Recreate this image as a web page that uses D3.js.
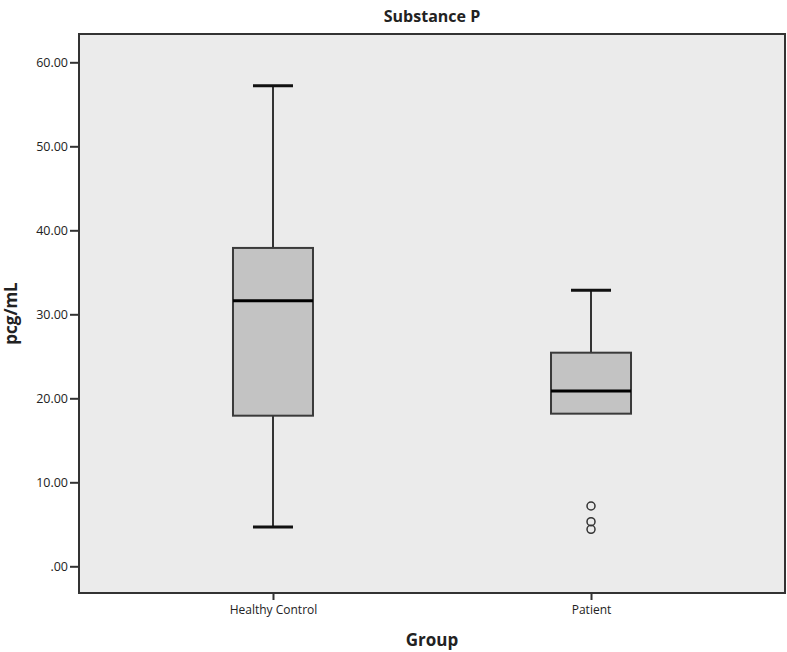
<!DOCTYPE html>
<html>
<head>
<meta charset="utf-8">
<script src="https://cdn.jsdelivr.net/npm/d3@7"></script>
<style>
  body { margin: 0; background: #fff; }
  svg text { font-family: "Open Sans", "DejaVu Sans", sans-serif; fill: #222; }
</style>
</head>
<body>
<svg id="chart" width="787" height="652"></svg>
<script>
'use strict';

// data
var groups = ["Healthy Control", "Patient"];
var lowWhisker = [4.68, 18.17];
var q1 = [17.93, 18.17];
var median = [31.6, 20.87];
var q3 = [37.9, 25.43];
var highWhisker = [57.2, 32.86];
var outliers = [[], [7.18, 5.31, 4.40]];
var yTicks = [0, 10, 20, 30, 40, 50, 60];

var svg = d3.select("#chart");
var plotLeft = 79, plotRight = 785, plotTop = 34, plotBottom = 593;

var x = d3.scalePoint().domain(groups).range([plotLeft, plotRight]).padding(0.61);
var y = d3.scaleLinear().domain([0, 60]).range([566.3, 62.3]);

var boxW = 80, capW = 40;

// plot background
svg.append("rect")
    .attr("x", plotLeft).attr("y", plotTop)
    .attr("width", plotRight - plotLeft).attr("height", plotBottom - plotTop)
    .attr("fill", "#ebebeb");

var fmt = function (d) {
    var s = d3.format(".2f")(d);
    return s.replace(/^0\./, ".");
};

// y axis
var yAxis = svg.append("g")
    .attr("transform", "translate(" + plotLeft + ",0)")
    .call(d3.axisLeft(y).tickValues(yTicks).tickFormat(fmt).tickSize(9).tickPadding(2));
yAxis.select(".domain").remove();
yAxis.selectAll("line").attr("stroke", "#333").attr("stroke-width", 2);
yAxis.selectAll("text").style("font-size", "12.5px").attr("fill", "#333");

// x axis
var xAxis = svg.append("g")
    .attr("transform", "translate(0," + plotBottom + ")")
    .call(d3.axisBottom(x).tickSize(7).tickPadding(5));
xAxis.select(".domain").remove();
xAxis.selectAll("line").attr("stroke", "#333").attr("stroke-width", 2);
xAxis.selectAll("text").style("font-size", "12px").attr("fill", "#333");

// boxes
var idx = d3.range(groups.length);
var g = svg.append("g");

idx.forEach(function (i) {
    var cx = x(groups[i]);
    g.append("line")
        .attr("x1", cx).attr("x2", cx)
        .attr("y1", y(q3[i])).attr("y2", y(highWhisker[i]))
        .attr("stroke", "#333").attr("stroke-width", 2);
    g.append("line")
        .attr("x1", cx - capW / 2).attr("x2", cx + capW / 2)
        .attr("y1", y(highWhisker[i])).attr("y2", y(highWhisker[i]))
        .attr("stroke", "#111").attr("stroke-width", 3);
    if (lowWhisker[i] < q1[i]) {
        g.append("line")
            .attr("x1", cx).attr("x2", cx)
            .attr("y1", y(q1[i])).attr("y2", y(lowWhisker[i]))
            .attr("stroke", "#333").attr("stroke-width", 2);
        g.append("line")
            .attr("x1", cx - capW / 2).attr("x2", cx + capW / 2)
            .attr("y1", y(lowWhisker[i])).attr("y2", y(lowWhisker[i]))
            .attr("stroke", "#111").attr("stroke-width", 3);
    }
    g.append("rect")
        .attr("x", cx - boxW / 2).attr("y", y(q3[i]))
        .attr("width", boxW).attr("height", y(q1[i]) - y(q3[i]))
        .attr("fill", "#c3c3c3").attr("stroke", "#3a3a3a").attr("stroke-width", 2);
    g.append("line")
        .attr("x1", cx - boxW / 2).attr("x2", cx + boxW / 2)
        .attr("y1", y(median[i])).attr("y2", y(median[i]))
        .attr("stroke", "#000").attr("stroke-width", 3);
    outliers[i].forEach(function (v) {
        g.append("circle")
            .attr("cx", cx).attr("cy", y(v)).attr("r", 4)
            .attr("fill", "none").attr("stroke", "#333").attr("stroke-width", 1.5);
    });
});

// frame
svg.append("rect")
    .attr("x", plotLeft).attr("y", plotTop)
    .attr("width", plotRight - plotLeft).attr("height", plotBottom - plotTop)
    .attr("fill", "none").attr("stroke", "#333").attr("stroke-width", 2);

// titles
svg.append("text")
    .attr("x", (plotLeft + plotRight) / 2).attr("y", 22)
    .attr("text-anchor", "middle")
    .style("font-size", "16px").style("font-weight", "bold")
    .text("Substance P");

svg.append("text")
    .attr("x", (plotLeft + plotRight) / 2).attr("y", 646)
    .attr("text-anchor", "middle")
    .style("font-size", "17px").style("font-weight", "bold")
    .text("Group");

svg.append("text")
    .attr("transform", "translate(17," + (plotTop + plotBottom) / 2 + ") rotate(-90)")
    .attr("text-anchor", "middle")
    .style("font-size", "17px").style("font-weight", "bold")
    .text("pcg/mL");
</script>
</body>
</html>
